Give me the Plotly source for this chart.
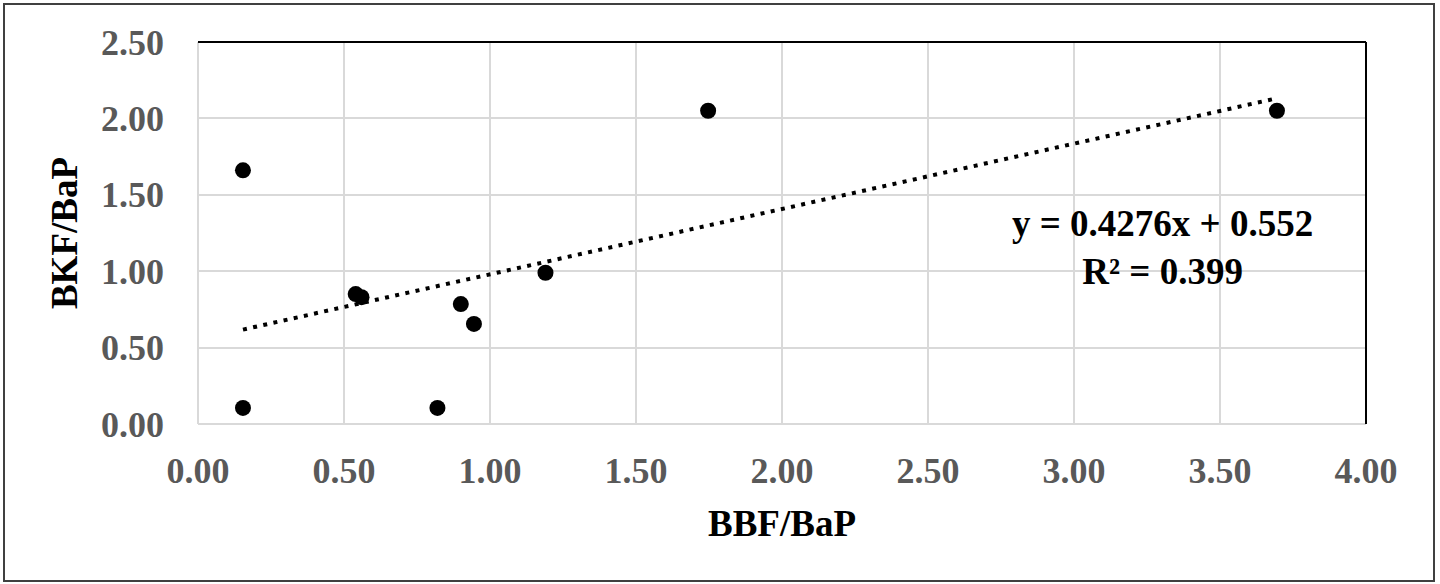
import plotly.graph_objects as go

# Data
bbf_bap = [0.154, 0.154, 0.54, 0.56, 0.82, 0.90, 0.945, 1.19, 1.747, 3.695]
bkf_bap = [1.66, 0.105, 0.85, 0.83, 0.105, 0.785, 0.655, 0.99, 2.05, 2.05]

# Trendline coefficients as printed on the chart
slope = 0.4276
intercept = 0.552
r2 = 0.399

x_ticks = [0, 0.5, 1, 1.5, 2, 2.5, 3, 3.5, 4]
y_ticks = [0, 0.5, 1, 1.5, 2, 2.5]

FONT = "Liberation Serif"
GRID = "#d9d9d9"

xmin, xmax = min(bbf_bap), max(bbf_bap)
trend_x = [xmin, xmax]
trend_y = [slope * v + intercept for v in trend_x]

fig = go.Figure()
fig.add_trace(go.Scatter(
    x=trend_x, y=trend_y, mode="lines",
    line=dict(color="black", width=4, dash="4px,6.4px"),
    hoverinfo="skip", showlegend=False,
))
fig.add_trace(go.Scatter(
    x=bbf_bap, y=bkf_bap, mode="markers",
    marker=dict(color="black", size=16, line=dict(width=0)),
    showlegend=False,
))

tickfont = dict(family=FONT, size=36, color="#595959", weight="bold")
titlefont = dict(family=FONT, size=37, color="black", weight="bold")

fig.update_layout(
    width=1440, height=584,
    margin=dict(l=198, r=74, t=42, b=160),
    paper_bgcolor="white", plot_bgcolor="white",
    font=dict(family=FONT),
    xaxis=dict(
        range=[0, 4], tickvals=x_ticks, tickformat=".2f",
        showgrid=True, gridcolor=GRID, gridwidth=2,
        zeroline=True, zerolinecolor=GRID, zerolinewidth=2,
        showline=False, ticks="", tickfont=tickfont,
        ticklabelstandoff=22,
        title=dict(text="BBF/BaP", font=titlefont, standoff=20),
    ),
    yaxis=dict(
        range=[0, 2.5], tickvals=y_ticks, tickformat=".2f",
        showgrid=True, gridcolor=GRID, gridwidth=2,
        zeroline=True, zerolinecolor=GRID, zerolinewidth=2,
        showline=False, ticks="", tickfont=tickfont,
        ticklabelstandoff=33,
        title=dict(text="BKF/BaP", font=titlefont, standoff=12),
    ),
    shapes=[
        # top and right plot border (black)
        dict(type="line", xref="paper", yref="paper", x0=0, x1=1, y0=1, y1=1,
             line=dict(color="black", width=2)),
        dict(type="line", xref="paper", yref="paper", x0=1, x1=1, y0=0, y1=1,
             line=dict(color="black", width=2)),
        # outer chart border
        dict(type="rect", xref="paper", yref="paper",
             x0=(4 - 198) / 1168, x1=(1434 - 198) / 1168,
             y0=(424 - 581) / 382, y1=(424 - 4) / 382,
             line=dict(color="#404040", width=2), fillcolor="rgba(0,0,0,0)",
             layer="above"),
    ],
    annotations=[
        dict(text=f"<b>y = {slope}x + {intercept}<br>R² = {r2}</b>",
             xref="paper", yref="paper",
             x=(1162 - 198) / 1168, y=(424 - 247) / 382, showarrow=False,
             xanchor="center", yanchor="middle", align="center",
             font=dict(family=FONT, size=37, color="black")),
    ],
)

fig.write_html(
    "out.html",
    config={"displayModeBar": False},
    post_script="document.body.style.margin='0';document.body.style.overflow='hidden';",
)
